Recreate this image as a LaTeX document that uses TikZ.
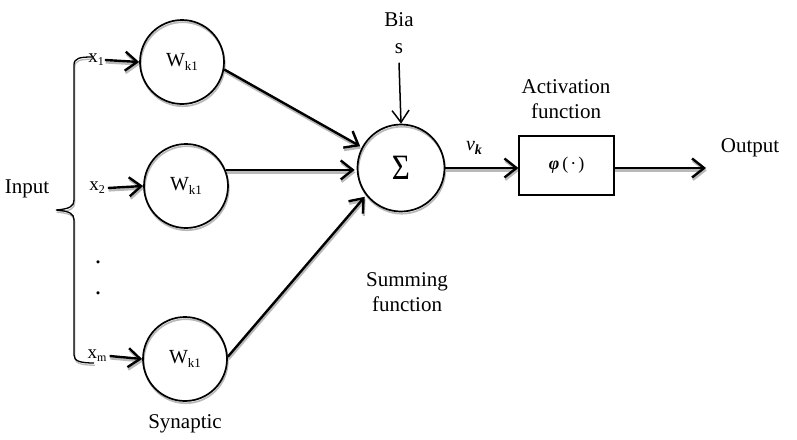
\documentclass[tikz,border=0pt]{standalone}
\usepackage{fontspec}
\setmainfont{Liberation Serif}
\usetikzlibrary{arrows.meta}
\pgfdeclarelayer{background}
\pgfsetlayers{background,main}

% subscript helper: lowered, smaller digits/letters
\newcommand{\lowsub}[2]{\raisebox{-0.35ex}{\fontsize{#1}{#1}\selectfont #2}}

% every wire of the neuron, drawn with style #1 and offset #2
\newcommand{\neuronwires}[2]{%
  \draw[#1] ([shift={#2}]x1.east) ++(1pt,0) -- ([shift={#2}]w1.west);
  \draw[#1] ([shift={#2}]x2.east) ++(3pt,0) -- ([shift={#2}]w2.west);
  \draw[#1] ([shift={#2}]xm.east) ++(3pt,0) -- ([shift={#2}]w3.west);
  \draw[#1, shorten >=2pt] ([shift={#2}]w1.-10) -- ([shift={#2}]sum.152);
  \draw[#1, shorten >=2pt] ([shift={#2}]w2.22) -- ([shift={#2}]w2.22 -| sum.west);
  \draw[#1, shorten >=2pt] ([shift={#2}]w3.3) -- ([shift={#2}]sum.218);
  \draw[#1] ([shift={#2}]sum.east) -- ([shift={#2}]act.west |- sum.east);
  \draw[#1] ([shift={#2}]act.east |- sum.east) -- ([shift={#2}]outend);
}
% the input brace
\newcommand{\inputbrace}[1]{%
  \draw[#1] (92,57) .. controls (80,57) and (74,58) .. (74,65) -- (74,200)
    .. controls (74,206) and (70,209) .. (56,210)
    .. controls (70,211) and (74,214) .. (74,220) -- (74,355)
    .. controls (74,361) and (80,363) .. (94,363);
}

\begin{document}
\begin{tikzpicture}[x=1pt, y=-1pt,
  txt/.style={font=\fontsize{21}{25}\selectfont, inner sep=0pt, align=center},
  weight/.style={circle, draw, line width=1.7pt, minimum size=84pt, inner sep=0pt,
    font=\fontsize{20}{22}\selectfont},
  summer/.style={weight, minimum size=87pt, font=\fontsize{31}{31}\selectfont},
  actbox/.style={draw, line width=1.2pt, minimum width=95pt, minimum height=59pt, inner sep=0pt},
  link/.style={-{Straight Barb[length=12pt, width=19pt, line width=2.4pt]}, line width=2.4pt},
  shade/.style={draw=gray!55},
  thinlink/.style={-{Straight Barb[length=12pt, width=17pt, line width=1.5pt]}, line width=1.5pt},
  brace/.style={line width=1.3pt},
  inlabel/.style={inner sep=0pt, font=\fontsize{19}{21}\selectfont}
]
\useasboundingbox (0,0) rectangle (797,439);

% synaptic weights
\node[weight] (w1) at (182,62) {W\lowsub{13}{k1}};
\node[weight] (w2) at (186,186) {W\lowsub{13}{k1}};
\node[weight] (w3) at (185,359) {W\lowsub{13}{k1}};

% summing junction and activation
\node[summer] (sum) at (401,168) {\scalebox{1}[1.15]{Σ}};
\node[actbox] (act) at (566.5,165.5)
  {\fontsize{18}{20}\selectfont\bfseries\itshape φ\hspace{3pt}\upshape\mdseries(\hspace{2pt}·\hspace{2pt})};
\coordinate (outend) at (706,168);

% input labels
\node[inlabel] (x1) at (96,60) {x\lowsub{12}{1}};
\node[inlabel] (x2) at (97,188) {x\lowsub{12}{2}};
\node[inlabel] (xm) at (97,356) {x\lowsub{12}{m}};
\node[inner sep=0pt, font=\fontsize{26}{26}\selectfont] (d1) at (98,262) {.};
\node[inner sep=0pt, font=\fontsize{26}{26}\selectfont] (d2) at (98,293) {.};

% text labels
\node[txt] (input) at (27,189) {Input};
\node[txt] (bias) at (399,33) {Bia\\[2pt]s};
\node[txt] (actlbl) at (566,99) {Activation\\function};
\node[txt] (sumlbl) at (407,292) {Summing\\function};
\node[txt] (synlbl) at (185,424) {Synaptic};
\node[txt] (outlbl) at (750,148) {Output};
\node[inner sep=0pt, font=\fontsize{20}{20}\selectfont\itshape] (vk) at (474,148) {v\lowsub{14}{\bfseries k}};

% grey offset shadows under the outlines and wires
\begin{pgfonlayer}{background}
  \draw[shade, line width=1.7pt] ([shift={(0.8pt,-2.2pt)}]w1.center) circle[radius=42pt];
  \draw[shade, line width=1.7pt] ([shift={(0.8pt,-2.2pt)}]w2.center) circle[radius=42pt];
  \draw[shade, line width=1.7pt] ([shift={(0.8pt,-2.2pt)}]w3.center) circle[radius=42pt];
  \draw[shade, line width=1.7pt] ([shift={(0.8pt,-2.2pt)}]sum.center) circle[radius=43.5pt];
  \neuronwires{link, shade}{(0.8pt,-2.4pt)}
  \begin{scope}[shift={(0.8,2.2)}]
    \inputbrace{brace, shade}
  \end{scope}
\end{pgfonlayer}

% input brace and wires
\inputbrace{brace}
\neuronwires{link}{(0pt,0pt)}

% bias
\draw[thinlink] (bias.south) ++(0,-9pt) -- (sum.north);
\end{tikzpicture}
\end{document}
